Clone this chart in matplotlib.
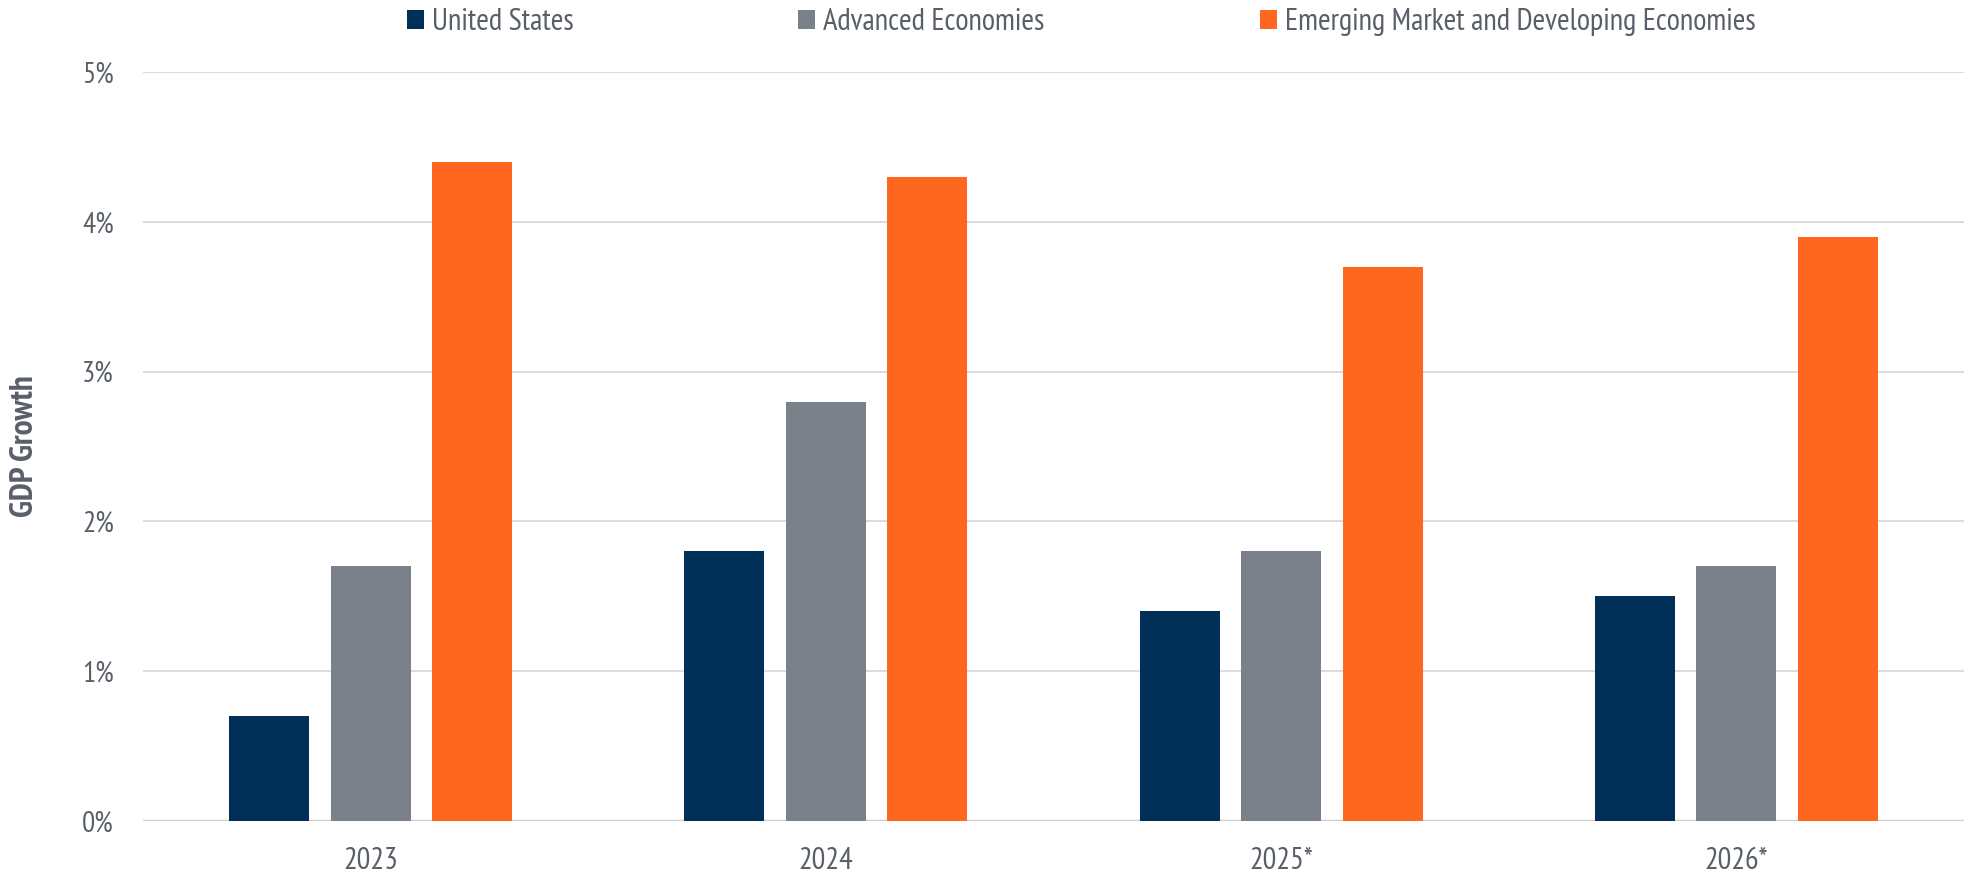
import matplotlib.pyplot as plt
import numpy as np
from matplotlib.ticker import FuncFormatter

years = ["2023", "2024", "2025*", "2026*"]
series_names = ["United States", "Advanced Economies", "Emerging Market and Developing Economies"]
united_states = [0.7, 1.8, 1.4, 1.5]
advanced = [1.7, 2.8, 1.8, 1.7]
emerging = [4.4, 4.3, 3.7, 3.9]
colors = ["#003057", "#7b818b", "#ff6720"]

narrow = ["PT Sans Narrow", "DejaVu Sans"]
txt_color = "#595f69"

fig = plt.figure(figsize=(19.84, 8.75), dpi=100)
ax = fig.add_axes([143 / 1984, 54 / 875, 1821 / 1984, 749 / 875])

x = np.arange(len(years))
width = 0.176
offset = 0.223
handles = []
for i, (vals, name) in enumerate(zip([united_states, advanced, emerging], series_names)):
    b = ax.bar(x + (i - 1) * offset, vals, width, color=colors[i], label=name, zorder=3)
    handles.append(b)

ax.set_xlim(-0.5, 3.5)
ax.set_ylim(0, 5)
ax.set_yticks(range(6))
ax.yaxis.set_major_formatter(FuncFormatter(lambda v, p: f"{int(v)}%"))
ax.grid(axis="y", color="#d9d9d9", linewidth=1.3, zorder=0)
ax.axhline(0, color="#d0d0d0", linewidth=2.5, zorder=2)
for s in ax.spines.values():
    s.set_visible(False)
ax.tick_params(axis="both", length=0)
ax.tick_params(axis="y", labelsize=21, labelcolor=txt_color, pad=21)
for lab in ax.get_yticklabels():
    lab.set_family(narrow)
ax.set_xticks(x)
ax.set_xticklabels(years, family=narrow, fontsize=22, color=txt_color)
ax.tick_params(axis="x", pad=19)
ax.set_ylabel("GDP Growth", family=narrow, fontsize=24, fontweight="bold",
              color=txt_color, labelpad=30)

# legend entries placed one by one, spacing in the original is uneven
leg_x = [407 / 1984, 798 / 1984, 1260 / 1984]
for h, name, lx in zip(handles, series_names, leg_x):
    leg = fig.legend(handles=[h], labels=[name], loc="center left",
                     bbox_to_anchor=(lx, 1 - 22 / 875), frameon=False,
                     prop={"family": narrow, "size": 22}, handlelength=0.57,
                     handleheight=0.57, handletextpad=0.25, borderpad=0,
                     borderaxespad=0)
    for t in leg.get_texts():
        t.set_color(txt_color)

fig.savefig("out.png", dpi=100)
